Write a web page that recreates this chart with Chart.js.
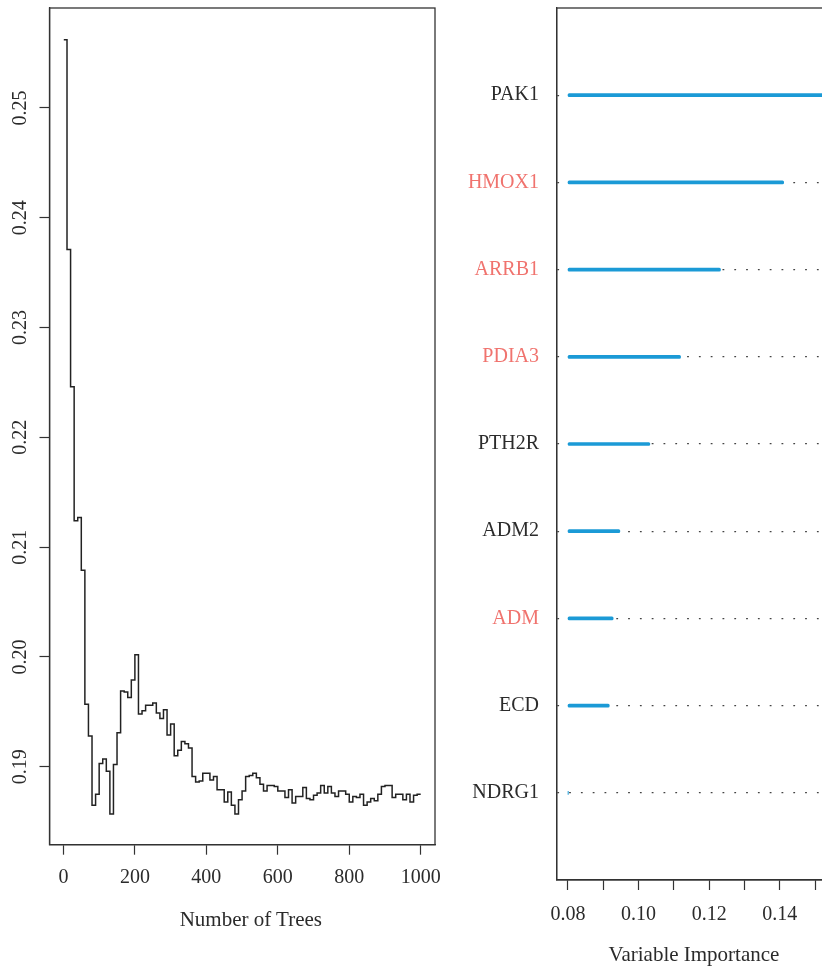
<!DOCTYPE html>
<html>
<head>
<meta charset="utf-8">
<title>Random forest: OOB error and variable importance</title>
<script src="https://cdn.jsdelivr.net/npm/chart.js@4.4.1/dist/chart.umd.min.js"></script>
<style>
  html, body { margin: 0; padding: 0; background: #fff; }
  #figure { position: relative; width: 822px; height: 970px; overflow: hidden; background: #fff; }
  .panel { position: absolute; top: 0; }
  .caption {
    position: absolute; width: 240px; text-align: center; white-space: nowrap;
    font-family: 'Liberation Serif', 'DejaVu Serif', serif; font-size: 21px; line-height: 24px; color: #2b2b2b;
  }
</style>
</head>
<body>
<div id="figure">
  <canvas id="errorChart" class="panel" width="440" height="970" style="left:0px;width:440px;height:970px"></canvas>
  <canvas id="importanceChart" class="panel" width="440" height="970" style="left:440px;width:440px;height:970px"></canvas>
  <div class="caption" style="left:130.8px;top:906.6px">Number of Trees</div>
  <div class="caption" style="left:574px;top:941.6px">Variable Importance</div>
</div>
<script>
// Out-of-bag error as the forest grows (value holds from each tree count to the next)
const treeCounts = [
  1, 10, 20, 30, 40, 50, 60, 70, 80, 90,
  100, 110, 120, 130, 140, 150, 160, 170, 180, 190,
  200, 210, 220, 230, 240, 250, 260, 270, 280, 290,
  300, 310, 320, 330, 340, 350, 360, 370, 380, 390,
  400, 410, 420, 430, 440, 450, 460, 470, 480, 490,
  500, 510, 520, 530, 540, 550, 560, 570, 580, 590,
  600, 610, 620, 630, 640, 650, 660, 670, 680, 690,
  700, 710, 720, 730, 740, 750, 760, 770, 780, 790,
  800, 810, 820, 830, 840, 850, 860, 870, 880, 890,
  900, 910, 920, 930, 940, 950, 960, 970, 980, 990,
  1000
];
const oobError = [
  0.2562, 0.2371, 0.2246, 0.2124, 0.2127, 0.2079, 0.1957, 0.1928, 0.1865, 0.1875,
  0.1903, 0.1907, 0.1896, 0.1857, 0.1902, 0.1931, 0.1969, 0.1968, 0.1963, 0.1979,
  0.2002, 0.1948, 0.1951, 0.1956, 0.1956, 0.1958, 0.1949, 0.1944, 0.1952, 0.1929,
  0.1939, 0.1910, 0.1915, 0.1923, 0.1921, 0.1917, 0.1891, 0.1886, 0.1887, 0.1894,
  0.1894, 0.1888, 0.1891, 0.1879, 0.1879, 0.1868, 0.1877, 0.1865, 0.1857, 0.1870,
  0.1878, 0.1891, 0.1892, 0.1894, 0.1890, 0.1884, 0.1878, 0.1883, 0.1883, 0.1882,
  0.1878, 0.1878, 0.1872, 0.1879, 0.1867, 0.1873, 0.1873, 0.1881, 0.1871, 0.1870,
  0.1874, 0.1876, 0.1883, 0.1876, 0.1882, 0.1876, 0.1873, 0.1878, 0.1878, 0.1875,
  0.1868, 0.1873, 0.1872, 0.1875, 0.1865, 0.1868, 0.1871, 0.1869, 0.1875, 0.1882,
  0.1883, 0.1883, 0.1872, 0.1875, 0.1875, 0.1870, 0.1875, 0.1868, 0.1874, 0.1875,
  0.1875
];

// Variable importance, ranked from the top of the panel downwards
const geneNames = ['PAK1', 'HMOX1', 'ARRB1', 'PDIA3', 'PTH2R', 'ADM2', 'ADM', 'ECD', 'NDRG1'];
const importance = [0.1600, 0.1411, 0.1232, 0.1119, 0.1032, 0.0947, 0.0928, 0.0917, 0.0801];
const importanceBase = 0.08;
const highlightedGenes = ['HMOX1', 'ARRB1', 'PDIA3', 'ADM'];

const serif = "'Liberation Serif', 'DejaVu Serif', serif";
const inkColor = '#2b2b2b';
const axisColor = '#333333';
const highlightColor = '#f0736e';
const barColor = '#1b9ad6';

// Fixed axis thickness and no label-overflow padding, so the plot box sits where it is placed
function fixAxis(size) {
  return s => {
    if (s.isHorizontal()) s.height = size; else s.width = size;
    s.paddingLeft = s.paddingRight = s.paddingTop = s.paddingBottom = 0;
  };
}

// Closed box around each plotting region
const frame = {
  id: 'frame',
  afterDraw(chart) {
    const { ctx, chartArea: a } = chart;
    ctx.save();
    ctx.strokeStyle = axisColor;
    ctx.lineWidth = 1.3;
    ctx.strokeRect(a.left, a.top, a.right - a.left, a.bottom - a.top);
    ctx.restore();
  }
};

new Chart(document.getElementById('errorChart'), {
  type: 'line',
  data: {
    datasets: [{
      data: treeCounts.map((t, i) => ({ x: t, y: oobError[i] })),
      borderColor: '#222222',
      borderWidth: 1.5,
      pointRadius: 0,
      stepped: 'before',
      fill: false
    }]
  },
  options: {
    responsive: false,
    animation: false,
    events: [],
    layout: { autoPadding: false, padding: { left: 0, right: 5, top: 8, bottom: 0 } },
    plugins: { legend: { display: false }, tooltip: { enabled: false } },
    scales: {
      x: {
        type: 'linear', min: -39, max: 1040,
        afterFit: fixAxis(125.3),
        ticks: {
          stepSize: 200, includeBounds: false, autoSkip: false, maxRotation: 0,
          padding: 11, color: inkColor, font: { family: serif, size: 20 },
          callback: v => String(v)
        },
        grid: { drawOnChartArea: false, tickLength: 10, tickColor: axisColor, tickWidth: 1.2 },
        border: { color: axisColor, width: 1.3 }
      },
      y: {
        type: 'linear', min: 0.1829, max: 0.2591,
        afterFit: fixAxis(49.5),
        ticks: {
          stepSize: 0.01, includeBounds: false, autoSkip: false,
          minRotation: 90, maxRotation: 90, crossAlign: 'center', padding: 1,
          color: inkColor, font: { family: serif, size: 20 },
          callback: v => v.toFixed(2)
        },
        grid: { drawOnChartArea: false, tickLength: 10, tickColor: axisColor, tickWidth: 1.2 },
        border: { color: axisColor, width: 1.3 }
      }
    }
  },
  plugins: [frame]
});

new Chart(document.getElementById('importanceChart'), {
  type: 'bar',
  data: {
    datasets: [{
      data: geneNames.map((g, i) => ({ y: i + 1, x: [importanceBase, importance[i]] })),
      backgroundColor: barColor,
      borderWidth: 0,
      borderRadius: 1.5,
      borderSkipped: false,
      barThickness: 3
    }]
  },
  options: {
    indexAxis: 'y',
    responsive: false,
    animation: false,
    events: [],
    layout: { autoPadding: false, padding: { left: 0, right: 18.3, top: 8, bottom: 0 } },
    plugins: { legend: { display: false }, tooltip: { enabled: false } },
    scales: {
      x: {
        type: 'linear', min: 0.0768, max: 0.1632,
        afterFit: fixAxis(90),
        ticks: {
          stepSize: 0.01, includeBounds: false, autoSkip: false, maxRotation: 0,
          padding: 13, color: inkColor, font: { family: serif, size: 20 },
          callback: v => (Math.round(v * 100) % 2 === 0 ? v.toFixed(2) : '')
        },
        grid: { drawOnChartArea: false, tickLength: 10, tickColor: axisColor, tickWidth: 1.2 },
        border: { color: axisColor, width: 1.3 }
      },
      y: {
        type: 'linear', min: 0, max: 10, reverse: true, offset: false,
        afterFit: fixAxis(116.7),
        ticks: {
          stepSize: 1, autoSkip: false, padding: 17.7,
          font: { family: serif, size: 20 },
          color: c => (highlightedGenes.includes(geneNames[c.tick.value - 1]) ? highlightColor : inkColor),
          callback: v => geneNames[v - 1] || ''
        },
        grid: {
          offset: false, drawTicks: false, lineWidth: 1.3,
          color: c => (c.tick && c.tick.value >= 1 && c.tick.value <= geneNames.length ? '#444444' : 'rgba(0,0,0,0)'),
          borderDash: [1.8, 10]
        },
        border: { color: axisColor, width: 1.3, dash: [1.8, 10] }
      }
    }
  },
  plugins: [frame]
});
</script>
</body>
</html>
